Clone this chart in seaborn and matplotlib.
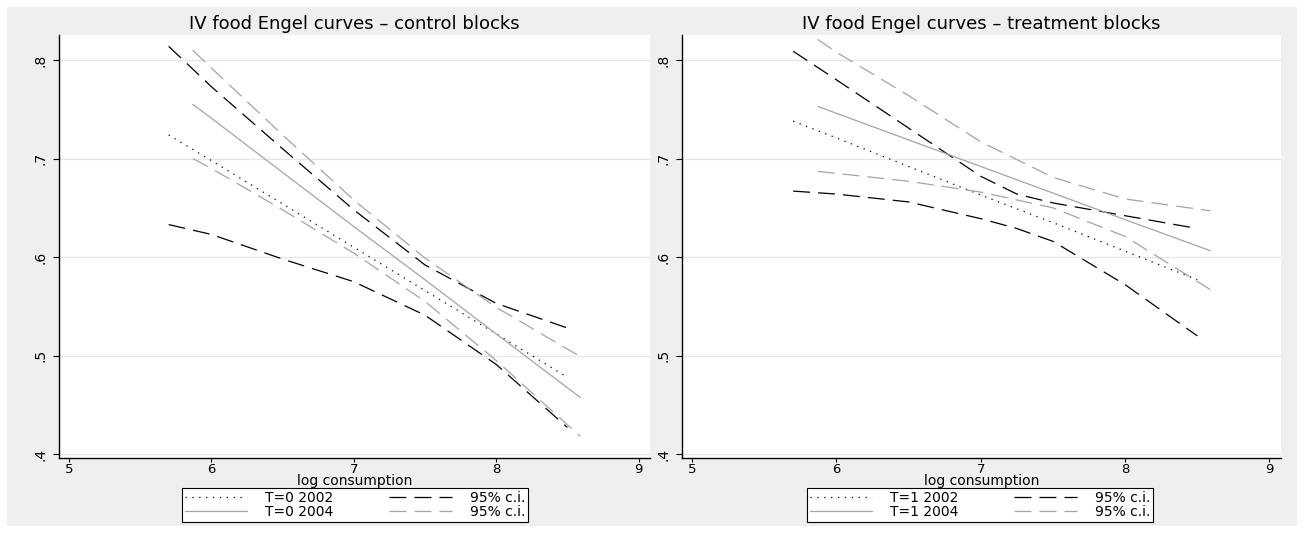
import numpy as np
import pandas as pd
import seaborn as sns
import matplotlib.pyplot as plt
from matplotlib.patches import Rectangle

# ---- values ----
# control blocks (T=0)
x_c02 = [5.7, 6.0, 6.5, 7.0, 7.5, 8.0, 8.5]
c02_fit = [0.724, 0.698, 0.654, 0.610, 0.566, 0.522, 0.478]
c02_hi = [0.814, 0.773, 0.710, 0.648, 0.592, 0.553, 0.528]
c02_lo = [0.633, 0.623, 0.598, 0.575, 0.541, 0.491, 0.427]

x_c04 = [5.87, 6.0, 6.5, 7.0, 7.5, 8.0, 8.59]
c04_fit = [0.755, 0.741, 0.686, 0.631, 0.577, 0.522, 0.4575]
c04_hi = [0.810, 0.792, 0.724, 0.658, 0.599, 0.549, 0.499]
c04_lo = [0.700, 0.690, 0.648, 0.604, 0.555, 0.495, 0.418]

# treatment blocks (T=1)
x_t02 = [5.7, 6.0, 6.5, 7.0, 7.25, 7.5, 8.0, 8.5]
t02_fit = [0.738, 0.721, 0.692, 0.663, 0.649, 0.635, 0.606, 0.577]
t02_hi = [0.809, 0.780, 0.731, 0.682, 0.664, 0.655, 0.642, 0.629]
t02_lo = [0.667, 0.664, 0.656, 0.639, 0.629, 0.616, 0.572, 0.520]

x_t04 = [5.87, 6.0, 6.5, 7.0, 7.5, 8.0, 8.59]
t04_fit = [0.753, 0.746, 0.719, 0.692, 0.665, 0.638, 0.6065]
t04_hi = [0.821, 0.808, 0.764, 0.717, 0.681, 0.659, 0.647]
t04_lo = [0.687, 0.685, 0.677, 0.666, 0.650, 0.621, 0.567]

y_ticks = [0.4, 0.5, 0.6, 0.7, 0.8]
y_ticklabels = [".4", ".5", ".6", ".7", ".8"]
x_ticks = [5, 6, 7, 8, 9]

# line styles (stata s2mono look)
GREY = "#a4a4a4"
LW = 0.9
DOT = (0, (1, 4.5))
DASH = (0, (13.5, 6.5))

sns.set_style("white")
plt.rcParams["font.family"] = ["DejaVu Sans"]
plt.rcParams["text.color"] = "black"
plt.rcParams["axes.labelcolor"] = "black"
plt.rcParams["xtick.color"] = "black"
plt.rcParams["ytick.color"] = "black"

W, H = 1304, 533


def engel_panel(ax, title, group, x02, fit02, hi02, lo02, x04, fit04, hi04, lo04, legend_x):
    # 2002 fit and its c.i. in black
    sns.lineplot(x=x02, y=fit02, ax=ax, color="black", linestyle=DOT, linewidth=LW,
                 errorbar=None, legend=False, label="T=%d 2002" % group)
    h1 = ax.lines[-1]
    sns.lineplot(x=x02, y=hi02, ax=ax, color="black", linestyle=DASH, linewidth=LW,
                 errorbar=None, legend=False, label="95% c.i.")
    h3 = ax.lines[-1]
    sns.lineplot(x=x02, y=lo02, ax=ax, color="black", linestyle=DASH, linewidth=LW,
                 errorbar=None, legend=False)
    # 2004 fit and its c.i. in grey
    sns.lineplot(x=x04, y=fit04, ax=ax, color=GREY, linestyle="-", linewidth=LW,
                 errorbar=None, legend=False, label="T=%d 2004" % group)
    h2 = ax.lines[-1]
    sns.lineplot(x=x04, y=hi04, ax=ax, color=GREY, linestyle=DASH, linewidth=LW,
                 errorbar=None, legend=False, label="95% c.i.")
    h4 = ax.lines[-1]
    sns.lineplot(x=x04, y=lo04, ax=ax, color=GREY, linestyle=DASH, linewidth=LW,
                 errorbar=None, legend=False)

    ax.set_facecolor("white")
    ax.set_xlim(4.93, 9.08)
    ax.set_ylim(0.396, 0.8255)
    ax.set_yticks(y_ticks)
    ax.set_yticklabels(y_ticklabels, rotation=90, va="center")
    ax.set_xticks(x_ticks)
    ax.set_xticklabels([str(t) for t in x_ticks])
    ax.tick_params(axis="y", length=4.5, width=0.8, pad=4, labelsize=10, left=True)
    ax.tick_params(axis="x", length=3, width=0.8, pad=0.5, labelsize=9.5, bottom=True)
    ax.yaxis.grid(True, color="#e6e6e6", linewidth=0.9)
    ax.xaxis.grid(False)
    ax.set_axisbelow(True)
    sns.despine(ax=ax)
    for s in ["left", "bottom"]:
        ax.spines[s].set_color("black")
        ax.spines[s].set_linewidth(1.0)

    ax.set_title(title, fontsize=13, pad=4)
    ax.set_xlabel("log consumption", fontsize=10, labelpad=-1.5)
    ax.set_ylabel("")

    leg = ax.legend([h1, h2, h3, h4],
                    ["T=%d 2002" % group, "T=%d 2004" % group, "95% c.i.", "95% c.i."],
                    ncol=2, loc="upper center",
                    bbox_to_anchor=(legend_x / W, 1 - 488 / H),
                    bbox_transform=ax.figure.transFigure,
                    frameon=True, fancybox=False, framealpha=1, edgecolor="black",
                    fontsize=10, handlelength=4.5, handletextpad=1.3,
                    columnspacing=4.0, borderpad=0.2, labelspacing=0.02,
                    borderaxespad=0)
    leg.get_frame().set_linewidth(0.8)
    leg.get_frame().set_facecolor("white")


fig = plt.figure(figsize=(W / 100, H / 100), dpi=100)
fig.patch.set_facecolor("white")
# light grey graph region with a thin white border
fig.patches.append(Rectangle((7 / W, 7 / H), 1290 / W, 519 / H, transform=fig.transFigure,
                             facecolor="#efefef", edgecolor="none", zorder=-10))

ax1 = fig.add_axes([59 / W, 1 - 458 / H, 591 / W, 423 / H])
ax2 = fig.add_axes([682 / W, 1 - 458 / H, 599 / W, 423 / H])

engel_panel(ax1, "IV food Engel curves \u2013 control blocks", 0,
            x_c02, c02_fit, c02_hi, c02_lo, x_c04, c04_fit, c04_hi, c04_lo, 355)
engel_panel(ax2, "IV food Engel curves \u2013 treatment blocks", 1,
            x_t02, t02_fit, t02_hi, t02_lo, x_t04, t04_fit, t04_hi, t04_lo, 980)

fig.savefig("out.png", dpi=100)
